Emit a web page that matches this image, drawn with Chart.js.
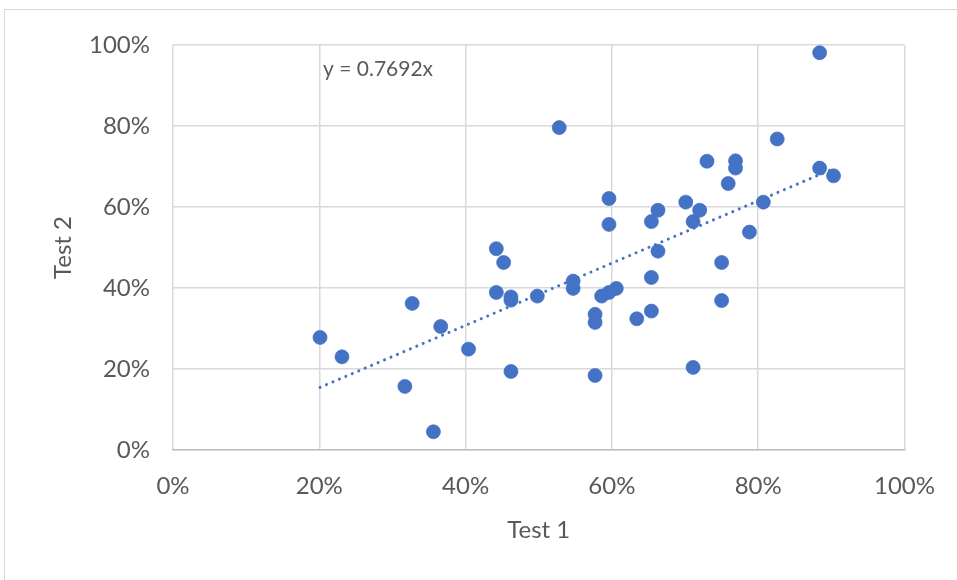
<!DOCTYPE html>
<html>
<head>
<meta charset="utf-8">
<script src="https://cdn.jsdelivr.net/npm/chart.js@4.4.1/dist/chart.umd.min.js"></script>
<style>
    body { margin: 0; background: #fff; }
    #frame { position: absolute; left: 4px; top: 9px; width: 1000px; height: 620px; border: 1px solid #d9d9d9; }
    #myChart { position: absolute; left: 0; top: 0; }
</style>
</head>
<body>
<div id="frame"></div>
<canvas id="myChart" width="957" height="580"></canvas>
<script>
// Test 1 (x) and Test 2 (y) scores
const test1 = [
    0.201, 0.231, 0.327, 0.317, 0.366, 0.356, 0.404, 0.442, 0.452, 0.442,
    0.462, 0.462, 0.462, 0.498, 0.528, 0.547, 0.547, 0.577, 0.577, 0.577,
    0.586, 0.596, 0.606, 0.596, 0.596, 0.634, 0.654, 0.654, 0.654, 0.663,
    0.663, 0.701, 0.711, 0.711, 0.720, 0.730, 0.750, 0.750, 0.759, 0.769,
    0.769, 0.788, 0.807, 0.826, 0.884, 0.884, 0.903
];
const test2 = [
    0.278, 0.230, 0.362, 0.157, 0.305, 0.045, 0.249, 0.497, 0.463, 0.389,
    0.378, 0.370, 0.194, 0.380, 0.796, 0.417, 0.399, 0.335, 0.315, 0.184,
    0.380, 0.389, 0.399, 0.621, 0.557, 0.324, 0.343, 0.426, 0.564, 0.592,
    0.491, 0.612, 0.564, 0.204, 0.592, 0.713, 0.463, 0.369, 0.658, 0.714,
    0.696, 0.538, 0.612, 0.768, 0.981, 0.696, 0.677
];
const tickLabels = ['0%', '20%', '40%', '60%', '80%', '100%'];
const slope = 0.7692;
const equation = 'y = 0.7692x';

const points = [];
for (let i = 0; i < test1.length; i++) {
    points.push({ x: test1[i], y: test2[i] });
}
const minX = Math.min(...test1);
const maxX = Math.max(...test1);
const trend = [
    { x: minX, y: slope * minX },
    { x: maxX, y: slope * maxX }
];

const textColor = '#595959';
const gridColor = '#d9d9d9';

const equationLabel = {
    id: 'equationLabel',
    afterDatasetsDraw(chart) {
        const ctx = chart.ctx;
        const area = chart.chartArea;
        ctx.save();
        ctx.font = '21px Lato';
        ctx.fillStyle = textColor;
        ctx.textAlign = 'left';
        ctx.textBaseline = 'alphabetic';
        ctx.fillText(equation, area.left + 150, area.top + 31);
        ctx.restore();
    }
};

const data = {
    datasets: [{
        type: 'line',
        label: 'Trend',
        data: trend,
        borderColor: '#4472C4',
        borderWidth: 3,
        borderDash: [0.01, 7],
        borderCapStyle: 'round',
        pointRadius: 0,
        fill: false,
        order: 0
    },
    {
        label: 'Test 2',
        data: points,
        backgroundColor: '#4472C4',
        borderColor: '#4472C4',
        borderWidth: 0.75,
        pointRadius: 7,
        order: 1
    }]
};

const config = {
    type: 'scatter',
    data: data,
    options: {
        responsive: false,
        animation: false,
        layout: {
            padding: { left: 0, top: 45, right: 51, bottom: 0 }
        },
        plugins: {
            legend: { display: false },
            tooltip: { enabled: false }
        },
        scales: {
            x: {
                type: 'linear',
                min: 0,
                max: 1,
                afterFit: function (scale) { scale.height = 130; },
                border: { display: true, color: '#bfbfbf', width: 1.5 },
                grid: { color: gridColor, lineWidth: 1.5, drawTicks: false },
                ticks: {
                    stepSize: 0.2,
                    padding: 22,
                    color: textColor,
                    font: { family: 'Lato', size: 24 },
                    callback: function (value, index) { return tickLabels[index]; }
                },
                title: {
                    display: true,
                    text: 'Test 1',
                    color: textColor,
                    font: { family: 'Lato', size: 24 },
                    padding: { top: 0, bottom: 35 }
                }
            },
            y: {
                type: 'linear',
                min: 0,
                max: 1,
                afterFit: function (scale) { scale.width = 173; },
                border: { display: false },
                grid: { color: gridColor, lineWidth: 1.5, drawTicks: false },
                ticks: {
                    stepSize: 0.2,
                    padding: 23,
                    color: textColor,
                    font: { family: 'Lato', size: 24 },
                    callback: function (value, index) { return tickLabels[index]; }
                },
                title: {
                    display: true,
                    text: 'Test 2',
                    color: textColor,
                    font: { family: 'Lato', size: 24 },
                    padding: { top: 49, bottom: 0 }
                }
            }
        }
    },
    plugins: [equationLabel]
};

const myChart = new Chart(
    document.getElementById('myChart'),
    config
);
</script>
</body>
</html>
